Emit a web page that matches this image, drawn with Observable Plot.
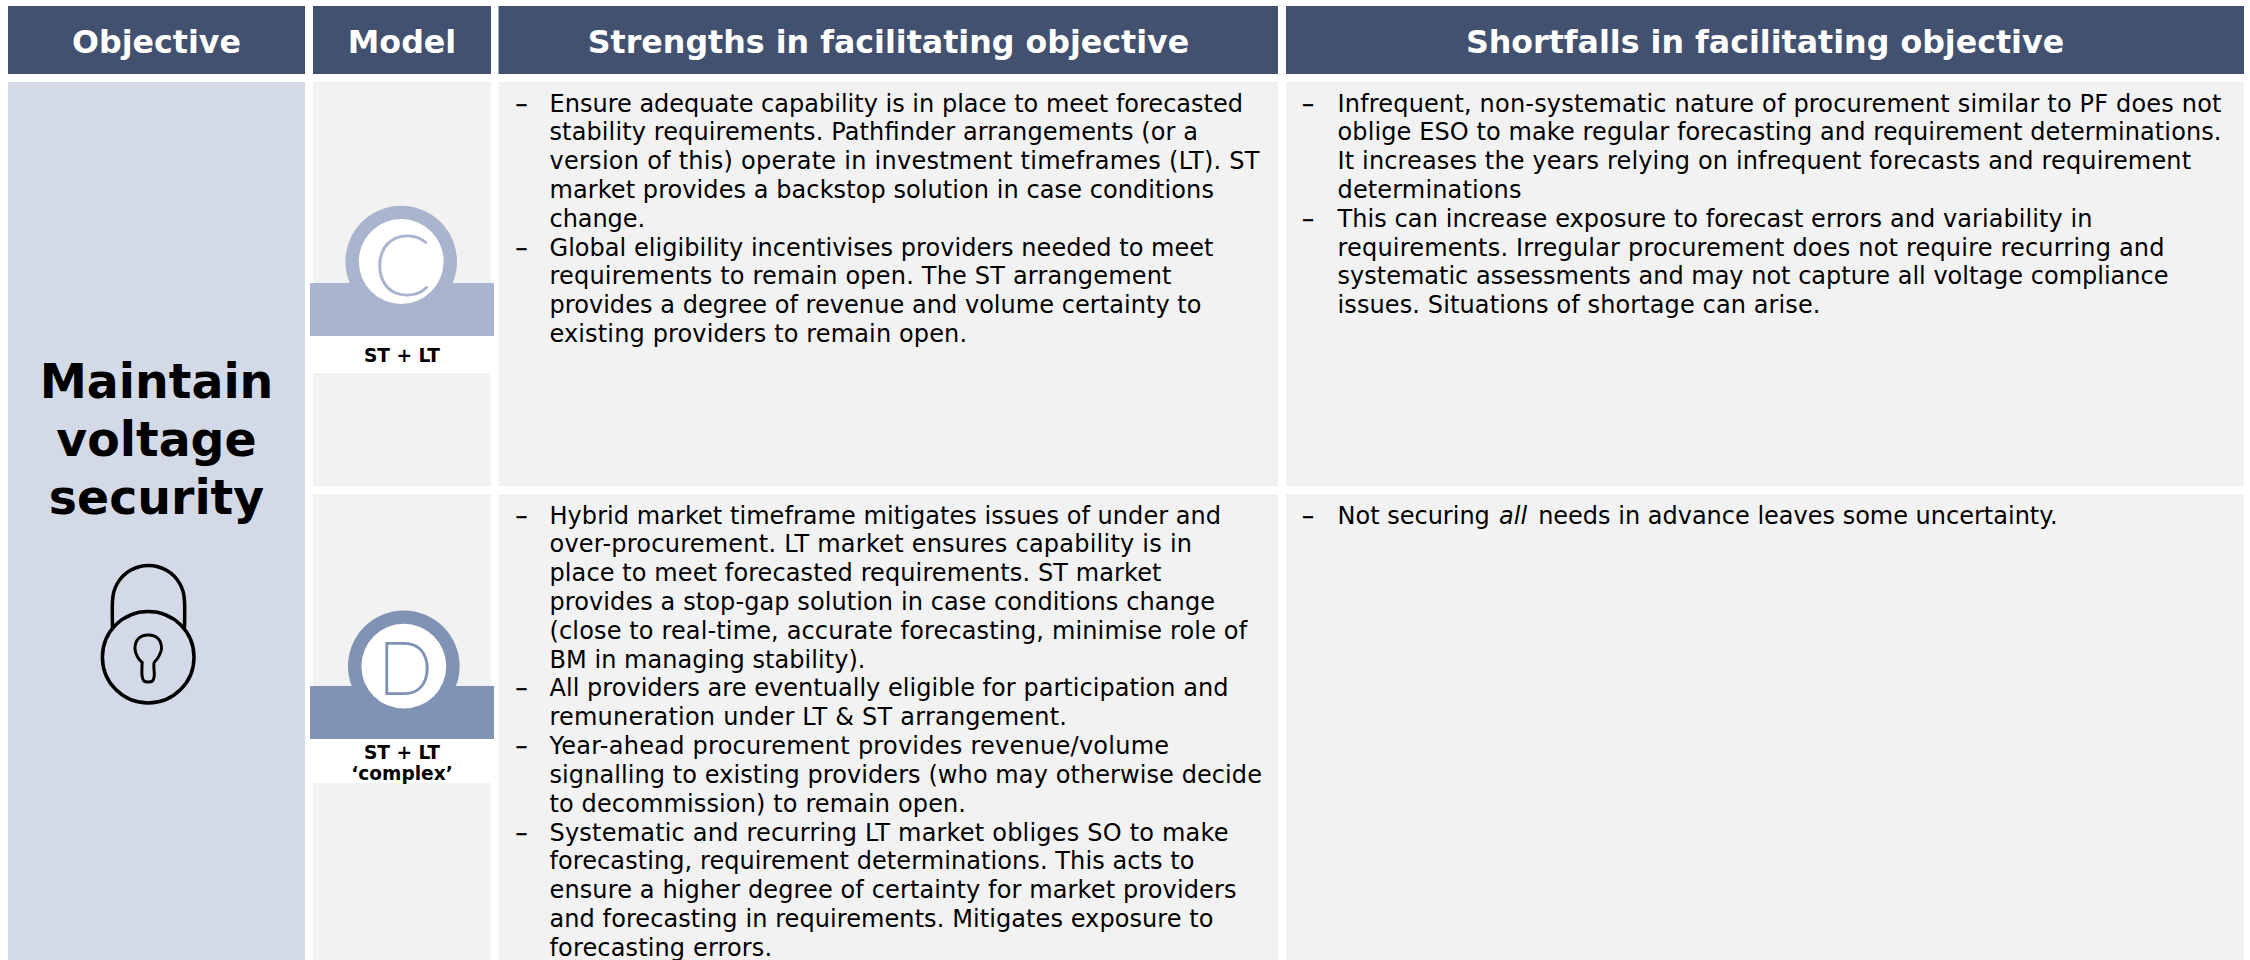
<!DOCTYPE html>
<html>
<head>
<meta charset="utf-8">
<script src="https://cdn.jsdelivr.net/npm/d3@7"></script>
<script src="https://cdn.jsdelivr.net/npm/@observablehq/plot@0.6"></script>
<style>
html,body{margin:0;padding:0;background:#fff}
svg{display:block}
</style>
</head>
<body>
<div id="chart"></div>
<script>
// ---- content ----
const headers = ["Objective", "Model", "Strengths in facilitating objective", "Shortfalls in facilitating objective"];
const objectiveLines = ["Maintain", "voltage", "security"];
const modelLetters = ["C", "D"];
const modelLabels = [["ST + LT"], ["ST + LT", "‘complex’"]];

const strengthsC = [
  ["Ensure adequate capability is in place to meet forecasted",
   "stability requirements. Pathfinder arrangements (or a",
   "version of this) operate in investment timeframes (LT). ST",
   "market provides a backstop solution in case conditions",
   "change."],
  ["Global eligibility incentivises providers needed to meet",
   "requirements to remain open. The ST arrangement",
   "provides a degree of revenue and volume certainty to",
   "existing providers to remain open."]
];
const shortfallsC = [
  ["Infrequent, non-systematic nature of procurement similar to PF does not",
   "oblige ESO to make regular forecasting and requirement determinations.",
   "It increases the years relying on infrequent forecasts and requirement",
   "determinations"],
  ["This can increase exposure to forecast errors and variability in",
   "requirements. Irregular procurement does not require recurring and",
   "systematic assessments and may not capture all voltage compliance",
   "issues. Situations of shortage can arise."]
];
const strengthsD = [
  ["Hybrid market timeframe mitigates issues of under and",
   "over-procurement. LT market ensures capability is in",
   "place to meet forecasted requirements. ST market",
   "provides a stop-gap solution in case conditions change",
   "(close to real-time, accurate forecasting, minimise role of",
   "BM in managing stability)."],
  ["All providers are eventually eligible for participation and",
   "remuneration under LT & ST arrangement."],
  ["Year-ahead procurement provides revenue/volume",
   "signalling to existing providers (who may otherwise decide",
   "to decommission) to remain open."],
  ["Systematic and recurring LT market obliges SO to make",
   "forecasting, requirement determinations. This acts to",
   "ensure a higher degree of certainty for market providers",
   "and forecasting in requirements. Mitigates exposure to",
   "forecasting errors."]
];
const shortfallsDParts = ["Not securing ", "all", " needs in advance leaves some uncertainty."];

// right-hand ends of the text lines, in line order
const strengthsCEnds = [1242.5, 1197.5, 1259, 1213.4, 644.6, 1213, 1171, 1201, 966.6];
const shortfallsCEnds = [2221, 2221, 2190.6, 1521, 2092, 2164, 2168, 1820];
const strengthsDEnds = [1220.6, 1191.5, 1161, 1214.5, 1246.6, 865, 1228, 1066.5, 1168.6, 1261.4, 965.5, 1228, 1194, 1236, 1213, 771.6];

// ---- table layout, in the units of the x and y scales ----
const colLeft = [8, 313, 498.5, 1286];
const colRight = [305, 491, 1278, 2244];
const colCenter = [156, 401.5, 888, 1764.5];
const rowTop = [82, 494];
const rowBottom = [486, 960];
const headTop = 6, headBottom = 74, headBase = 52.5;
const bandLeft = 310, bandRight = 494;
const bandTop = [283, 686], bandBottom = [336, 739], whiteBottom = [373, 783];
const badgeX = [400.7, 403.3], badgeY = [261, 665.7];
const letterBase = [294, 693.5], letterX = [401.7, 404.8], letterSize = [84, 72];
const labelBase = [[361.5], [758.8, 779]];
const objectiveBase = [397.5, 455.5, 513.5];
const lineStep = 28.83, firstLineOffset = 29;
const dashX = [515, 1301.5], textX = [549, 1337];
const allX = 1498.5, restX = 1530;

// ---- padlock outline ----
const shackleX = [112, 112, 113.2, 116.8, 122.5, 130, 138.7, 148, 157.3, 166, 173.5, 179.2, 182.8, 184, 184];
const shackleY = [627, 601, 591.7, 583, 575.5, 569.8, 566.2, 565, 566.2, 569.8, 575.5, 583, 591.7, 601, 627];
const keyholeX = [141.7, 141.7, 143.5, 147.7, 152, 153.7, 153.7, 157, 161, 157.5, 147.7, 138, 134.5, 138, 141.7];
const keyholeY = [662, 676, 680.5, 681.5, 680.5, 676, 662, 658, 648, 638, 634.5, 638, 648, 658, 662];
const lockBody = [{x: 147.7, y: 656.7}];

// ---- colours ----
const headFill = "#41516F", objFill = "#D3D9E6", cellFill = "#F2F2F2";
const bandFill = ["#A9B5CE", "#8193B5"];
const FONT = "'DejaVu Sans', Verdana, sans-serif";

// ---- derived tables ----
const headRects = headers.map((h, i) => ({x1: colLeft[i], x2: colRight[i], y1: headTop, y2: headBottom}));
const objRect = [{x1: colLeft[0], x2: colRight[0], y1: rowTop[0], y2: rowBottom[1]}];
const cellRects = rowTop.flatMap((t, r) => [1, 2, 3].map(c => ({x1: colLeft[c], x2: colRight[c], y1: t, y2: rowBottom[r]})));
const bands = [0, 1].map(r => ({x1: bandLeft, x2: bandRight, y1: bandTop[r], y2: bandBottom[r], fill: bandFill[r]}));
const whites = [0, 1].map(r => ({x1: bandLeft, x2: bandRight, y1: bandBottom[r], y2: whiteBottom[r]}));
const badges = [0, 1].map(r => ({x: badgeX[r], y: badgeY[r], fill: bandFill[r]}));

function bulletLines(bullets, ends, col, row) {
  const out = [];
  let n = 0;
  bullets.forEach(lines => lines.forEach((t, i) => {
    out.push({x: textX[col], y: rowTop[row] + firstLineOffset + n * lineStep, t, dash: i === 0, dx: dashX[col], end: ends[n]});
    n++;
  }));
  return out;
}
const bodyLines = [
  ...bulletLines(strengthsC, strengthsCEnds, 0, 0),
  ...bulletLines(shortfallsC, shortfallsCEnds, 1, 0),
  ...bulletLines(strengthsD, strengthsDEnds, 0, 1),
  {x: textX[1], y: rowTop[1] + firstLineOffset, t: shortfallsDParts[0], dash: true, dx: dashX[1]},
  {x: restX, y: rowTop[1] + firstLineOffset, t: shortfallsDParts[2], dash: false}
];
const italicPart = [{x: allX, y: rowTop[1] + firstLineOffset, t: shortfallsDParts[1]}];
const labels = modelLabels.flatMap((ls, r) => ls.map((t, i) => ({x: colCenter[1], y: labelBase[r][i], t})));

const txt = {fontFamily: FONT, lineAnchor: "bottom"};

const chart = Plot.plot({
  width: 2250, height: 960,
  margin: 0,
  x: {domain: [0, 2250], range: [0, 2250], axis: null},
  y: {domain: [0, 960], range: [0, 960], axis: null},
  marks: [
    Plot.rect(headRects, {x1: "x1", x2: "x2", y1: "y1", y2: "y2", fill: headFill}),
    Plot.rect(objRect, {x1: "x1", x2: "x2", y1: "y1", y2: "y2", fill: objFill}),
    Plot.rect(cellRects, {x1: "x1", x2: "x2", y1: "y1", y2: "y2", fill: cellFill}),
    Plot.dot(badges, {x: "x", y: "y", r: 55.8, fill: "fill"}),
    Plot.rect(bands, {x1: "x1", x2: "x2", y1: "y1", y2: "y2", fill: "fill"}),
    Plot.rect(whites, {x1: "x1", x2: "x2", y1: "y1", y2: "y2", fill: "#fff"}),
    Plot.dot(badges, {x: "x", y: "y", r: 42.4, fill: "#fff"}),
    Plot.text(modelLetters, {x: (d, i) => letterX[i], y: (d, i) => letterBase[i], text: d => d, fill: (d, i) => bandFill[i], stroke: (d, i) => bandFill[i], strokeWidth: 2, fontFamily: "Lato", fontWeight: 100, fontSize: (d, i) => letterSize[i], lineAnchor: "bottom"}),
    Plot.text(headers, {...txt, x: (d, i) => colCenter[i], y: headBase, text: d => d, fill: "#fff", fontWeight: 700, fontSize: 31.7}),
    Plot.text(objectiveLines, {...txt, x: colCenter[0], y: (d, i) => objectiveBase[i], text: d => d, fill: "#000", fontWeight: 700, fontSize: 47.4}),
    Plot.text(labels, {...txt, x: "x", y: "y", text: "t", fill: "#000", fontWeight: 700, fontSize: 18.6}),
    Plot.text(bodyLines, {...txt, x: "x", y: "y", text: "t", fill: "#000", fontSize: 24, textAnchor: "start"}),
    Plot.text(bodyLines.filter(d => d.dash), {...txt, x: "dx", y: "y", text: () => "–", fill: "#000", stroke: "#000", strokeWidth: 0.4, fontSize: 24, textAnchor: "start"}),
    Plot.text(italicPart, {...txt, x: "x", y: "y", text: "t", fill: "#000", fontSize: 24, fontStyle: "italic", textAnchor: "start"}),
    // padlock
    Plot.line(shackleX.map((x, i) => ({x, y: shackleY[i]})), {x: "x", y: "y", stroke: "#000", strokeWidth: 3.5, curve: "catmull-rom"}),
    Plot.dot(lockBody, {x: "x", y: "y", r: 45.8, stroke: "#000", strokeWidth: 3.5, fill: objFill}),
    Plot.line(keyholeX.map((x, i) => ({x, y: keyholeY[i]})), {x: "x", y: "y", stroke: "#000", strokeWidth: 3, curve: "catmull-rom"})
  ]
});

// fit each body line to the width it has in the reference
const widthOf = new Map(bodyLines.filter(d => d.end).map(d => [d.t, d.end - d.x]));
chart.querySelectorAll("text").forEach(n => {
  const w = widthOf.get(n.textContent);
  if (w) n.setAttribute("textLength", w);
});
document.getElementById("chart").append(chart);
</script>
</body>
</html>
